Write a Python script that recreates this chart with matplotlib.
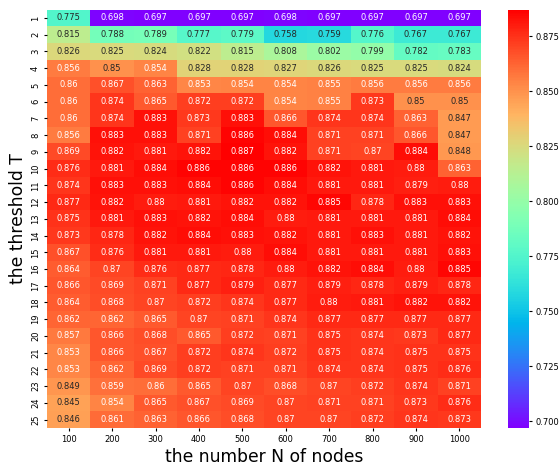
import matplotlib
matplotlib.use("Agg")
import matplotlib.pyplot as plt
import numpy as np
import seaborn as sns

# number of nodes (columns) and threshold T (rows)
nodes = [100, 200, 300, 400, 500, 600, 700, 800, 900, 1000]
thresholds = list(range(1, 26))

acc = np.array([
    [0.775, 0.698, 0.697, 0.697, 0.697, 0.698, 0.697, 0.697, 0.697, 0.697],
    [0.815, 0.788, 0.789, 0.777, 0.779, 0.758, 0.759, 0.776, 0.767, 0.767],
    [0.826, 0.825, 0.824, 0.822, 0.815, 0.808, 0.802, 0.799, 0.782, 0.783],
    [0.856, 0.85, 0.854, 0.828, 0.828, 0.827, 0.826, 0.825, 0.825, 0.824],
    [0.86, 0.867, 0.863, 0.853, 0.854, 0.854, 0.855, 0.856, 0.856, 0.856],
    [0.86, 0.874, 0.865, 0.872, 0.872, 0.854, 0.855, 0.873, 0.85, 0.85],
    [0.86, 0.874, 0.883, 0.873, 0.883, 0.866, 0.874, 0.874, 0.863, 0.847],
    [0.856, 0.883, 0.883, 0.871, 0.886, 0.884, 0.871, 0.871, 0.866, 0.847],
    [0.869, 0.882, 0.881, 0.882, 0.887, 0.882, 0.871, 0.87, 0.884, 0.848],
    [0.876, 0.881, 0.884, 0.886, 0.886, 0.886, 0.882, 0.881, 0.88, 0.863],
    [0.874, 0.883, 0.883, 0.884, 0.886, 0.884, 0.881, 0.881, 0.879, 0.88],
    [0.877, 0.882, 0.88, 0.881, 0.882, 0.882, 0.885, 0.878, 0.883, 0.883],
    [0.875, 0.881, 0.883, 0.882, 0.884, 0.88, 0.881, 0.881, 0.881, 0.884],
    [0.873, 0.878, 0.882, 0.884, 0.883, 0.882, 0.881, 0.883, 0.881, 0.882],
    [0.867, 0.876, 0.881, 0.881, 0.88, 0.884, 0.881, 0.881, 0.881, 0.883],
    [0.864, 0.87, 0.876, 0.877, 0.878, 0.88, 0.882, 0.884, 0.88, 0.885],
    [0.866, 0.869, 0.871, 0.877, 0.879, 0.877, 0.879, 0.878, 0.879, 0.878],
    [0.864, 0.868, 0.87, 0.872, 0.874, 0.877, 0.88, 0.881, 0.882, 0.882],
    [0.862, 0.862, 0.865, 0.87, 0.871, 0.874, 0.877, 0.877, 0.877, 0.877],
    [0.857, 0.866, 0.868, 0.865, 0.872, 0.871, 0.875, 0.874, 0.873, 0.877],
    [0.853, 0.866, 0.867, 0.872, 0.874, 0.872, 0.875, 0.874, 0.875, 0.875],
    [0.853, 0.862, 0.869, 0.872, 0.871, 0.871, 0.874, 0.874, 0.875, 0.876],
    [0.849, 0.859, 0.86, 0.865, 0.87, 0.868, 0.87, 0.872, 0.874, 0.871],
    [0.845, 0.854, 0.865, 0.867, 0.869, 0.87, 0.871, 0.871, 0.873, 0.876],
    [0.846, 0.861, 0.863, 0.866, 0.868, 0.87, 0.87, 0.872, 0.874, 0.873],
])

fig = plt.figure(figsize=(5.6, 4.67), dpi=100)
ax = fig.add_axes([0.084, 0.0835, 0.775, 0.896])
cax = fig.add_axes([0.907, 0.0835, 0.038, 0.896])

sns.heatmap(acc, ax=ax, cbar_ax=cax, cmap="rainbow", annot=True, fmt=".3g",
            annot_kws={"fontsize": 6}, xticklabels=nodes, yticklabels=thresholds)

ax.tick_params(axis="both", labelsize=6, length=2.5, pad=2.5)
ax.set_yticklabels(thresholds, rotation=90, va="center")
ax.set_xticklabels(nodes, rotation=0)
ax.set_xlabel("the number N of nodes", fontsize=12.3, labelpad=3)
ax.set_ylabel("the threshold T", fontsize=12.3, labelpad=3)
cax.tick_params(labelsize=6, length=2.5, pad=2)
for s in cax.spines.values():
    s.set_visible(False)

fig.savefig("out.png", dpi=100)
